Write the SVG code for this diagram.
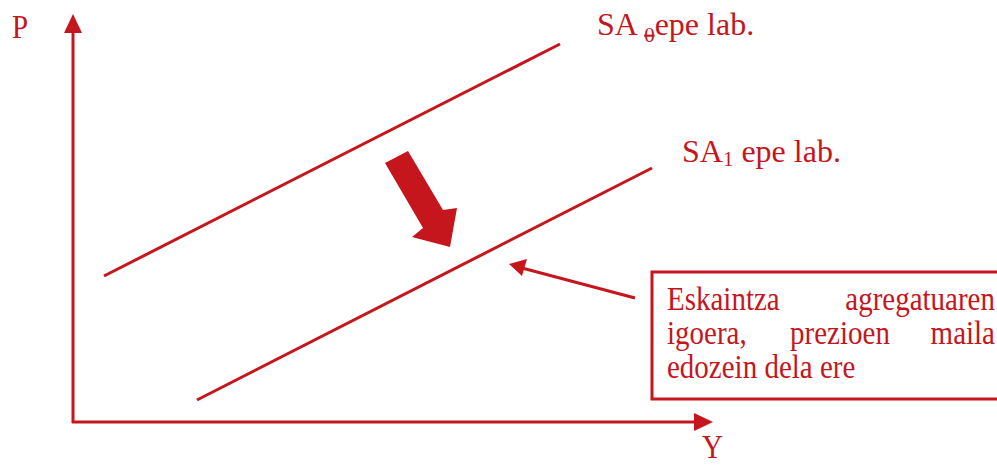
<svg xmlns="http://www.w3.org/2000/svg" width="997" height="466" viewBox="0 0 997 466">
<defs>
<style>
.ln{stroke:#c5161d;stroke-width:3;fill:none}
.t{font-family:"Liberation Serif","Times New Roman",serif;font-size:29px;fill:#c5161d}
.lb{font-family:"Liberation Serif","Times New Roman",serif;font-size:32px;fill:#c5161d}
.fill{fill:#c5161d}
</style>
</defs>
<rect width="997" height="466" fill="#ffffff"/>
<g id="axes">
<path class="ln" d="M73,423 L73,30"/>
<path class="fill" d="M73,14 L82,33 L64,33 Z"/>
<path class="ln" d="M72,422 L696,422"/>
<path class="fill" d="M713,422 L694,413 L694,431 Z"/>
<text class="t" transform="translate(12,38) scale(1,1.15)">P</text>
<text class="t" transform="translate(702,458) scale(1,1.15)">Y</text>
</g>
<g id="sa0">
<path class="ln" d="M104,276 L560,44"/>
<text class="lb" x="597" y="35">SA <tspan font-size="21" dy="7" text-decoration="line-through">0</tspan><tspan dy="-7">epe lab.</tspan></text>
</g>
<g id="sa1">
<path class="ln" d="M197,400 L652,168"/>
<text class="lb" x="682" y="162">SA<tspan font-size="21" dy="4">1</tspan><tspan dy="-4"> epe lab.</tspan></text>
</g>
<g id="shift-arrow">
<polygon class="fill" points="385,163 408,151 443,210 457,208 450,247 412,237 423,228"/>
</g>
<g id="note">
<rect x="652" y="272" width="350" height="127" class="ln"/>
<text class="t" transform="translate(667,310) scale(1,1.15)">Eskaintza</text>
<text class="t" transform="translate(995,310) scale(1,1.15)" text-anchor="end">agregatuaren</text>
<text class="t" transform="translate(667,344) scale(1,1.15)">igoera,</text>
<text class="t" transform="translate(840,344) scale(1,1.15)" text-anchor="middle">prezioen</text>
<text class="t" transform="translate(995,344) scale(1,1.15)" text-anchor="end">maila</text>
<text class="t" transform="translate(667,378) scale(1,1.15)">edozein dela ere</text>
</g>
<g id="connectors">
<path class="ln" d="M635,298 L522,268"/>
<path class="fill" d="M509,264 L527,259 L522,276 Z"/>
</g>
</svg>
